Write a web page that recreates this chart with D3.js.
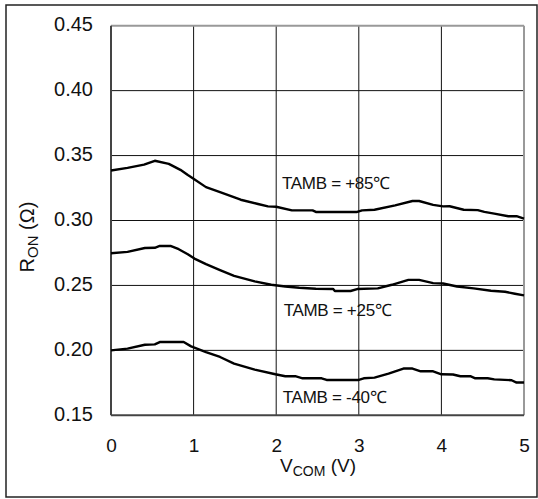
<!DOCTYPE html>
<html><head><meta charset="utf-8">
<script src="https://cdn.jsdelivr.net/npm/d3@7"></script>
<style>body{margin:0;background:#fff}svg{display:block}text{font-family:"Liberation Sans",Arial,sans-serif;fill:#111}</style>
</head><body><svg id="c" width="538" height="499"></svg>
<script>
const xTicks = [0,1,2,3,4,5];
const yTicks = [0.15,0.20,0.25,0.30,0.35,0.40,0.45];
const yTickLabels = ["0.15","0.20","0.25","0.30","0.35","0.40","0.45"];

const v85 = [0,0.2,0.4,0.53,0.70,0.84,0.93,0.99,1.15,1.32,1.57,1.78,1.90,2.0,2.19,2.44,2.48,2.98,3.04,3.19,3.44,3.65,3.73,3.90,4.02,4.10,4.27,4.44,4.52,4.64,4.81,4.91,5.0];
const r85 = [0.3385,0.3405,0.3430,0.346,0.3436,0.339,0.335,0.3326,0.3257,0.3219,0.316,0.3127,0.3109,0.3106,0.3078,0.3078,0.3066,0.3066,0.3078,0.3083,0.3117,0.315,0.315,0.312,0.3109,0.311,0.3083,0.308,0.3066,0.3053,0.3033,0.3033,0.3015];

const v25 = [0,0.2,0.41,0.53,0.59,0.72,0.82,0.93,1.01,1.15,1.32,1.49,1.74,1.94,2.11,2.28,2.48,2.69,2.71,2.90,2.98,3.23,3.40,3.60,3.73,3.90,4.02,4.19,4.39,4.60,4.77,4.89,5.0];
const r25 = [0.2748,0.2758,0.2788,0.279,0.2804,0.2804,0.2779,0.274,0.2707,0.2664,0.2618,0.2574,0.2531,0.2505,0.2492,0.2482,0.2474,0.2472,0.2457,0.2457,0.2472,0.2477,0.2505,0.2543,0.2543,0.2518,0.2515,0.2492,0.2477,0.2459,0.2451,0.2436,0.2423];

const vm40 = [0,0.2,0.41,0.53,0.59,0.88,0.97,1.15,1.32,1.49,1.74,1.99,2.11,2.23,2.32,2.55,2.61,3.0,3.06,3.19,3.36,3.54,3.65,3.75,3.90,4.0,4.14,4.23,4.35,4.41,4.56,4.64,4.85,4.91,5.0];
const rm40 = [0.2,0.2013,0.2043,0.2046,0.2064,0.2064,0.2031,0.1987,0.1949,0.1898,0.1852,0.1816,0.1801,0.1801,0.1785,0.1785,0.1772,0.1772,0.1785,0.179,0.1821,0.186,0.186,0.1839,0.1839,0.1816,0.1814,0.1801,0.1801,0.1785,0.1785,0.1777,0.177,0.1752,0.1752];

const seriesNames = ["TAMB = +85℃","TAMB = +25℃","TAMB = -40℃"];
const labelPos = [[2.07,0.3245],[2.09,0.2268],[2.08,0.1593]];

const svg = d3.select("#c");
const L=111, R=524, T=25.7, B=415.3;
const x = d3.scaleLinear().domain([0,5]).range([L,R]);
const y = d3.scaleLinear().domain([0.15,0.45]).range([B,T]);

svg.append("rect").attr("x",6).attr("y",5).attr("width",531).attr("height",492)
  .attr("fill","none").attr("stroke","#222").attr("stroke-width",1.5);

// grid
svg.append("g").selectAll("line").data(xTicks.slice(1,-1)).join("line")
  .attr("x1",d=>x(d)).attr("x2",d=>x(d)).attr("y1",T).attr("y2",B)
  .attr("stroke","#111").attr("stroke-width",1);
svg.append("g").selectAll("line").data(yTicks.slice(1,-1)).join("line")
  .attr("y1",d=>y(d)).attr("y2",d=>y(d)).attr("x1",L).attr("x2",R)
  .attr("stroke","#111").attr("stroke-width",1);

// frame
svg.append("line").attr("x1",L).attr("x2",R).attr("y1",T).attr("y2",T).attr("stroke","#999").attr("stroke-width",2);
svg.append("line").attr("x1",R).attr("x2",R).attr("y1",T).attr("y2",B).attr("stroke","#999").attr("stroke-width",2);
svg.append("line").attr("x1",L).attr("x2",L).attr("y1",T).attr("y2",B).attr("stroke","#444").attr("stroke-width",2);
svg.append("line").attr("x1",L).attr("x2",R).attr("y1",B).attr("y2",B).attr("stroke","#444").attr("stroke-width",2);

const yAxis = d3.axisLeft(y).tickValues(yTicks).tickFormat((d,i)=>yTickLabels[i]).tickSize(0).tickPadding(18);
const gy = svg.append("g").attr("transform",`translate(${L},0)`).call(yAxis);
gy.select(".domain").remove();
gy.selectAll("text").attr("font-size",20).attr("fill","#111").attr("dy","0.25em");

const xAxis = d3.axisBottom(x).tickValues(xTicks).tickFormat(d3.format("d")).tickSize(0).tickPadding(23);
const gx = svg.append("g").attr("transform",`translate(0,${B})`).call(xAxis);
gx.select(".domain").remove();
gx.selectAll("text").attr("font-size",19).attr("fill","#111");

// curves
const line = d3.line().x(d=>x(d[0])).y(d=>y(d[1]));
const data = [d3.zip(v85,r85), d3.zip(v25,r25), d3.zip(vm40,rm40)];
svg.append("g").selectAll("path").data(data).join("path")
  .attr("d",line).attr("fill","none").attr("stroke","#000").attr("stroke-width",2.4).attr("stroke-linejoin","round");

svg.append("g").selectAll("text").data(seriesNames).join("text")
  .attr("x",(d,i)=>x(labelPos[i][0])).attr("y",(d,i)=>y(labelPos[i][1]))
  .attr("font-size",17).attr("letter-spacing",-0.3).text(d=>d);

// axis titles
const xt = svg.append("text").attr("x",318).attr("y",472).attr("text-anchor","middle").attr("font-size",19);
xt.append("tspan").text("V");
xt.append("tspan").attr("font-size",14).attr("dy",4).text("COM");
xt.append("tspan").attr("dy",-4).text(" (V)");

const yt = svg.append("text").attr("transform","translate(34,237) rotate(-90)").attr("text-anchor","middle").attr("font-size",20);
yt.append("tspan").text("R");
yt.append("tspan").attr("font-size",15).attr("dy",4).text("ON");
yt.append("tspan").attr("dy",-4).text(" (Ω)");
</script></body></html>
